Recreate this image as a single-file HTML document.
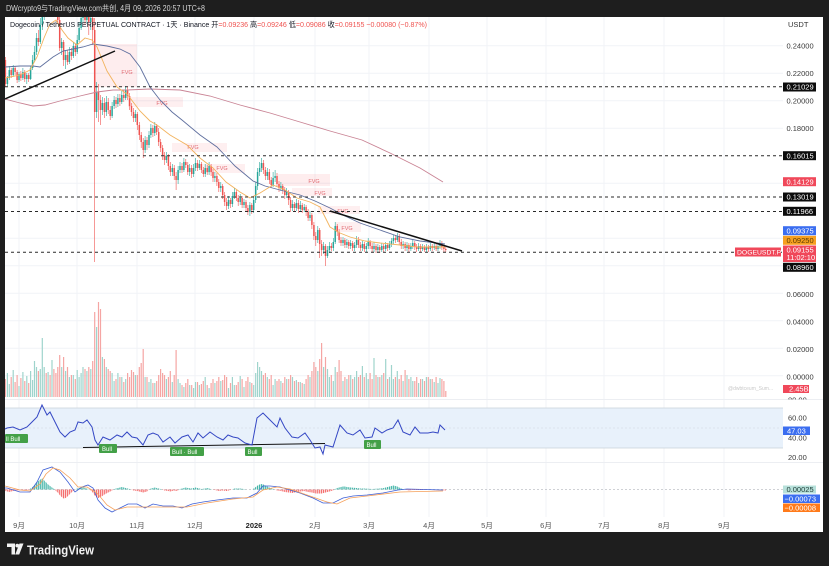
<!DOCTYPE html>
<html><head><meta charset="utf-8"><style>html,body{margin:0;padding:0;background:#1e1e1e;}svg{display:block;}</style></head>
<body>
<svg width="829" height="566" viewBox="0 0 829 566" xmlns="http://www.w3.org/2000/svg" font-family="'Liberation Sans','Noto Sans CJK SC',sans-serif">
<defs>
<clipPath id="mainclip"><rect x="5" y="17" width="778" height="382"/></clipPath>
<clipPath id="rsiclip"><rect x="5" y="400" width="778" height="62"/></clipPath>
<clipPath id="c80"><rect x="783" y="390" width="40" height="9.5"/></clipPath>
<pattern id="pt" patternUnits="userSpaceOnUse" x="4.82" y="0" width="1.94" height="10"><rect x="0" y="0" width="1.2" height="10" fill="#3fb3a6"/></pattern>
<pattern id="pr" patternUnits="userSpaceOnUse" x="4.82" y="0" width="1.94" height="10"><rect x="0" y="0" width="1.2" height="10" fill="#f46b6b"/></pattern>
</defs>
<rect width="829" height="566" fill="#1e1e1e"/>
<rect x="5" y="17" width="818" height="515" fill="#ffffff"/>
<g stroke="#f1f3f7" stroke-width="1">
<line x1="19" y1="17" x2="19" y2="517"/><line x1="77" y1="17" x2="77" y2="517"/><line x1="137" y1="17" x2="137" y2="517"/><line x1="195" y1="17" x2="195" y2="517"/><line x1="254" y1="17" x2="254" y2="517"/><line x1="315" y1="17" x2="315" y2="517"/><line x1="369" y1="17" x2="369" y2="517"/><line x1="429" y1="17" x2="429" y2="517"/><line x1="487" y1="17" x2="487" y2="517"/><line x1="546" y1="17" x2="546" y2="517"/><line x1="604" y1="17" x2="604" y2="517"/><line x1="664" y1="17" x2="664" y2="517"/><line x1="724" y1="17" x2="724" y2="517"/>
<line x1="5" y1="45.7" x2="783" y2="45.7"/><line x1="5" y1="73.3" x2="783" y2="73.3"/><line x1="5" y1="100.7" x2="783" y2="100.7"/><line x1="5" y1="128.3" x2="783" y2="128.3"/><line x1="5" y1="183.2" x2="783" y2="183.2"/><line x1="5" y1="238.2" x2="783" y2="238.2"/><line x1="5" y1="265.7" x2="783" y2="265.7"/><line x1="5" y1="293.2" x2="783" y2="293.2"/><line x1="5" y1="320.7" x2="783" y2="320.7"/><line x1="5" y1="348.2" x2="783" y2="348.2"/><line x1="5" y1="375.7" x2="783" y2="375.7"/>
</g>
<rect x="5" y="408" width="778" height="40" fill="#e8f1fb"/>
<line x1="5" y1="408" x2="783" y2="408" stroke="#c9d0da" stroke-width="0.7"/>
<line x1="5" y1="448" x2="783" y2="448" stroke="#c9d0da" stroke-width="0.7"/>
<line x1="5" y1="428" x2="783" y2="428" stroke="#cfd6e0" stroke-width="0.6" stroke-dasharray="2,2"/>
<line x1="5" y1="399.5" x2="823" y2="399.5" stroke="#eceef2" stroke-width="1"/>
<line x1="5" y1="462.5" x2="823" y2="462.5" stroke="#eceef2" stroke-width="1"/>
<line x1="5" y1="489.5" x2="783" y2="489.5" stroke="#a0a3ab" stroke-width="0.6" stroke-dasharray="2,2"/>
<g clip-path="url(#mainclip)">
 <g font-size="5.5" fill="#e26a72" text-anchor="middle">
  <rect x="95" y="44" width="42" height="43" fill="rgba(242,54,69,0.09)"/><text x="127" y="74">FVG</text>
  <rect x="128" y="97" width="55" height="10" fill="rgba(242,54,69,0.08)"/><text x="162" y="105">FVG</text>
  <rect x="172" y="143" width="55" height="9" fill="rgba(242,54,69,0.08)"/><text x="193" y="149">FVG</text>
  <rect x="203" y="164" width="42" height="9" fill="rgba(242,54,69,0.08)"/><text x="222" y="170">FVG</text>
  <rect x="278" y="174" width="52" height="12" fill="rgba(242,54,69,0.09)"/><text x="314" y="183">FVG</text>
  <rect x="292" y="188" width="40" height="8" fill="rgba(242,54,69,0.08)"/><text x="320" y="195">FVG</text>
  <rect x="318" y="206" width="42" height="8" fill="rgba(242,54,69,0.08)"/><text x="343" y="213">FVG</text>
  <rect x="335" y="222" width="26" height="10" fill="rgba(242,54,69,0.08)"/><text x="347" y="230">FVG</text>
 </g>
 <path fill="none" stroke="#9fd4cc" stroke-width="1.2" d="M7.4 397v-24M9.3 397v-13M13.2 397v-27M19 397v-11M22.9 397v-25M26.8 397v-21M30.6 397v-26M32.6 397v-17M34.5 397v-36M36.5 397v-30M40.3 397v-28M42.3 397v-59M44.2 397v-30M48.1 397v-25M52 397v-37M61.7 397v-30M65.6 397v-26M69.4 397v-20M73.3 397v-22M77.2 397v-27M79.1 397v-20M81.1 397v-24M83 397v-30M86.9 397v-26M90.8 397v-28M96.6 397v-70M102.4 397v-40M106.3 397v-30M112.1 397v-24M114.1 397v-16M117.9 397v-24M121.8 397v-20M125.7 397v-18M135.4 397v-22M145.1 397v-20M149 397v-15M150.9 397v-18M154.8 397v-14M166.4 397v-18M172.3 397v-15M178.1 397v-18M180 397v-14M183.9 397v-10M189.7 397v-12M193.6 397v-9M195.5 397v-15M199.4 397v-12M205.2 397v-20M209.1 397v-9M214.9 397v-14M220.8 397v-16M228.5 397v-9M232.4 397v-20M234.3 397v-12M240.2 397v-21M244 397v-10M249.9 397v-15M253.7 397v-12M255.7 397v-24M257.6 397v-35M259.6 397v-30M261.5 397v-26M267.3 397v-20M273.1 397v-12M275.1 397v-18M280.9 397v-16M286.7 397v-18M292.5 397v-20M296.4 397v-17M300.3 397v-15M304.2 397v-13M310 397v-20M317.8 397v-26M323.6 397v-30M327.5 397v-28M329.4 397v-20M333.3 397v-16M335.2 397v-30M343 397v-16M346.9 397v-18M350.7 397v-22M354.6 397v-20M356.6 397v-26M362.4 397v-31M366.3 397v-24M368.2 397v-18M374 397v-39M377.9 397v-20M381.8 397v-22M385.7 397v-38M389.5 397v-20M391.5 397v-32M393.4 397v-18M397.3 397v-26M403.1 397v-16M407 397v-22M410.9 397v-20M412.8 397v-16M418.6 397v-14M422.5 397v-18M426.4 397v-20M430.3 397v-18M434.2 397v-15M438 397v-14M440 397v-19"/>
 <path fill="none" stroke="#f5a5a3" stroke-width="1.2" d="M5.4 397v-18M11.2 397v-20M15.1 397v-15M17.1 397v-22M20.9 397v-19M24.8 397v-16M28.7 397v-14M38.4 397v-26M46.2 397v-24M50.1 397v-22M53.9 397v-28M55.9 397v-24M57.8 397v-30M59.7 397v-42M63.6 397v-40M67.5 397v-30M71.4 397v-22M75.3 397v-18M85 397v-28M88.8 397v-30M92.7 397v-36M94.7 397v-85M98.5 397v-95M100.5 397v-88M104.4 397v-38M108.2 397v-28M110.2 397v-26M116 397v-18M119.9 397v-20M123.8 397v-15M127.6 397v-24M129.6 397v-20M131.5 397v-27M133.5 397v-25M137.3 397v-22M139.3 397v-30M141.2 397v-34M143.2 397v-48M147 397v-20M152.9 397v-14M156.7 397v-16M158.7 397v-22M160.6 397v-28M162.6 397v-24M164.5 397v-22M168.4 397v-20M170.3 397v-26M174.2 397v-22M176.1 397v-47M182 397v-12M185.8 397v-14M187.8 397v-18M191.7 397v-12M197.5 397v-15M201.4 397v-13M203.3 397v-16M207.2 397v-12M211.1 397v-14M213 397v-18M216.9 397v-16M218.8 397v-20M222.7 397v-17M224.6 397v-22M226.6 397v-20M230.5 397v-14M236.3 397v-12M238.2 397v-15M242.1 397v-18M246 397v-16M247.9 397v-20M251.8 397v-14M263.4 397v-22M265.4 397v-24M269.3 397v-18M271.2 397v-22M277 397v-16M279 397v-18M282.8 397v-14M284.8 397v-20M288.7 397v-18M290.6 397v-22M294.5 397v-16M298.4 397v-15M302.2 397v-14M306.1 397v-18M308.1 397v-22M311.9 397v-26M313.9 397v-35M315.8 397v-30M319.7 397v-38M321.6 397v-54M325.5 397v-40M331.3 397v-22M337.2 397v-25M339.1 397v-37M341 397v-26M344.9 397v-20M348.8 397v-22M352.7 397v-18M358.5 397v-20M360.4 397v-22M364.3 397v-20M370.1 397v-24M372.1 397v-18M376 397v-22M379.8 397v-20M383.7 397v-24M387.6 397v-18M395.4 397v-20M399.2 397v-18M401.2 397v-22M405.1 397v-27M408.9 397v-18M414.8 397v-16M416.7 397v-20M420.6 397v-18M424.5 397v-16M428.3 397v-20M432.2 397v-18M436.1 397v-20M441.9 397v-18M443.9 397v-16M445.8 397v-6"/>
 <path fill="none" stroke="#26a69a" stroke-width="0.6" d="M7.4 76V86M9.3 66V80M13.2 65V77M19 72V82M22.9 68V80M26.8 73V84M30.6 66V80M32.6 55V70M34.5 46V62M36.5 33V55M40.3 18V44M42.3 8V30M44.2 -5V20M48.1 -10V14M52 -15V5M61.7 38V55M65.6 50V69M69.4 47V64M73.3 42V58M77.2 35V54M79.1 22V42M81.1 10V30M83 2V22M86.9 4V24M90.8 12V30M96.6 82V118M102.4 97V115M106.3 96V116M112.1 102V118M114.1 96V109M117.9 94V107M121.8 90V104M125.7 86V100M135.4 110V122M145.1 136V153M149 131V148M150.9 124V138M154.8 122V136M166.4 152V163M172.3 164V176M178.1 166V184M180 162V173M183.9 158V172M189.7 164V176M193.6 164V177M195.5 158V171M199.4 160V170M205.2 164V177M209.1 162V175M214.9 172V182M220.8 182V192M228.5 196V209M232.4 192V207M234.3 188V199M240.2 194V205M244 199V208M249.9 202V216M253.7 196V213M255.7 182V203M257.6 168V190M259.6 162V176M261.5 158V172M267.3 168V180M273.1 172V187M275.1 170V182M280.9 182V191M286.7 188V198M292.5 200V211M296.4 199V211M300.3 201V212M304.2 204V212M310 211V221M317.8 226V243M323.6 242V254M327.5 246V258M329.4 242V253M333.3 238V251M335.2 222V244M343 237V246M346.9 239V248M350.7 240V249M354.6 242V251M356.6 236V248M362.4 241V251M366.3 243V252M368.2 238V249M374 242V252M377.9 244V253M381.8 243V252M385.7 242V251M389.5 241V250M391.5 238V247M393.4 235V244M397.3 233V242M403.1 241V249M407 242V251M410.9 243V251M412.8 240V249M418.6 243V251M422.5 244V251M426.4 244V252M430.3 243V251M434.2 243V250M438 243V251M440 240V249"/>
 <path fill="none" stroke="#26a69a" stroke-width="1.5" d="M7.4 84V78M9.3 78V70M13.2 75V68M19 80V74M22.9 78V72M26.8 79V75M30.6 79V68M32.6 68V60M34.5 60V52M36.5 52V38M40.3 42V25M42.3 25V15M44.2 15V5M48.1 10V-5M52 0V-8M61.7 48V42M65.6 60V55M69.4 62V52M73.3 56V46M77.2 52V40M79.1 40V28M81.1 28V18M83 18V10M86.9 20V12M90.8 22V18M96.6 112V92M102.4 110V103M106.3 112V102M112.1 116V106M114.1 106V100M117.9 104V98M121.8 102V95M125.7 98V90M135.4 118V114M145.1 150V140M149 145V135M150.9 135V128M154.8 133V126M166.4 160V156M172.3 172V168M178.1 180V170M180 170V166M183.9 170V162M189.7 172V168M193.6 174V168M195.5 168V163M199.4 168V164M205.2 174V168M209.1 172V166M214.9 178V176M220.8 188V186M228.5 206V200M232.4 204V196M234.3 196V192M240.2 202V198M244 205V202M249.9 212V205M253.7 210V200M255.7 200V186M257.6 186V172M259.6 172V168M261.5 168V163M267.3 176V172M273.1 185V178M275.1 178V176M280.9 188V186M286.7 195V192M292.5 208V204M296.4 208V203M300.3 209V205M304.2 210V207M310 218V215M317.8 240V230M323.6 250V246M327.5 256V250M329.4 250V246M333.3 248V242M335.2 242V226M343 243V240M346.9 245V242M350.7 246V243M354.6 248V245M356.6 245V240M362.4 248V244M366.3 249V246M368.2 246V242M374 249V246M377.9 250V247M381.8 250V246M385.7 249V245M389.5 248V244M391.5 244V241M393.4 241V238M397.3 240V236M403.1 246V244M407 248V245M410.9 249V246M412.8 246V243M418.6 249V246M422.5 249V247M426.4 250V247M430.3 249V246M434.2 248V246M438 249V246M440 246V243"/>
 <path fill="none" stroke="#ef5350" stroke-width="0.6" d="M5.4 57V87M11.2 68V78M15.1 66V75M17.1 70V83M20.9 71V81M24.8 70V82M28.7 73V82M38.4 30V46M46.2 -5V15M50.1 -12V5M53.9 -12V8M55.9 -3V14M57.8 5V24M59.7 15V51M63.6 40V66M67.5 50V65M71.4 48V60M75.3 44V56M85 5V25M88.8 8V35M92.7 14V45M94.7 18V262M98.5 84V122M100.5 95V125M104.4 98V118M108.2 98V114M110.2 106V120M116 97V108M119.9 94V106M123.8 90V102M127.6 87V100M129.6 93V110M131.5 103V116M133.5 108V122M137.3 112V130M139.3 122V140M141.2 132V148M143.2 138V158M147 137V150M152.9 125V137M156.7 124V135M158.7 128V146M160.6 139V152M162.6 145V160M164.5 152V165M168.4 154V170M170.3 162V176M174.2 165V180M176.1 172V190M182 163V173M185.8 159V168M187.8 162V175M191.7 165V178M197.5 160V171M201.4 162V173M203.3 167V177M207.2 165V175M211.1 164V176M213 169V182M216.9 173V186M218.8 179V192M222.7 184V199M224.6 192V206M226.6 198V210M230.5 198V208M236.3 190V201M238.2 195V206M242.1 196V208M246 200V211M247.9 205V215M251.8 203V214M263.4 160V174M265.4 167V180M269.3 169V184M271.2 177V188M277 173V187M279 181V192M282.8 184V194M284.8 187V199M288.7 190V205M290.6 197V212M294.5 202V211M298.4 200V213M302.2 203V213M306.1 205V216M308.1 209V221M311.9 213V229M313.9 222V240M315.8 232V246M319.7 228V258M321.6 240V256M325.5 244V266M331.3 243V251M337.2 224V236M339.1 229V243M341 237V246M344.9 238V248M348.8 240V249M352.7 241V251M358.5 237V248M360.4 242V251M364.3 242V252M370.1 240V249M372.1 243V252M376 244V253M379.8 245V253M383.7 244V252M387.6 243V251M395.4 235V243M399.2 234V245M401.2 239V249M405.1 242V251M408.9 243V252M414.8 241V250M416.7 244V252M420.6 244V252M424.5 245V252M428.3 245V252M432.2 244V251M436.1 244V251M441.9 241V250M443.9 245V252M445.8 247V252"/>
 <path fill="none" stroke="#ef5350" stroke-width="1.5" d="M5.4 60V84M11.2 70V75M15.1 68V72M17.1 72V80M20.9 74V78M24.8 72V79M28.7 75V79M38.4 38V42M46.2 5V10M50.1 -5V0M53.9 -8V2M55.9 2V10M57.8 10V20M59.7 20V48M63.6 42V60M67.5 55V62M71.4 52V56M75.3 46V52M85 10V20M88.8 12V22M92.7 18V30M94.7 30V112M98.5 92V100M100.5 100V110M104.4 103V112M108.2 102V110M110.2 110V116M116 100V104M119.9 98V102M123.8 95V98M127.6 90V96M129.6 96V106M131.5 106V112M133.5 112V118M137.3 114V125M139.3 125V135M141.2 135V142M143.2 142V150M147 140V145M152.9 128V133M156.7 126V132M158.7 132V142M160.6 142V148M162.6 148V155M164.5 155V160M168.4 156V166M170.3 166V172M174.2 168V176M176.1 176V180M182 166V170M185.8 162V165M187.8 165V172M191.7 168V174M197.5 163V168M201.4 164V170M203.3 170V174M207.2 168V172M211.1 166V172M213 172V178M216.9 176V182M218.8 182V188M222.7 186V195M224.6 195V202M226.6 202V206M230.5 200V204M236.3 192V198M238.2 198V202M242.1 198V205M246 202V208M247.9 208V212M251.8 205V210M263.4 163V170M265.4 170V176M269.3 172V180M271.2 180V185M277 176V184M279 184V188M282.8 186V190M284.8 190V195M288.7 192V200M290.6 200V208M294.5 204V208M298.4 203V209M302.2 205V210M306.1 207V212M308.1 212V218M311.9 215V225M313.9 225V236M315.8 236V240M319.7 230V244M321.6 244V250M325.5 246V256M331.3 246V248M337.2 226V232M339.1 232V240M341 240V243M344.9 240V245M348.8 242V246M352.7 243V248M358.5 240V245M360.4 245V248M364.3 244V249M370.1 242V246M372.1 246V249M376 246V250M379.8 247V250M383.7 246V249M387.6 245V248M395.4 238V240M399.2 236V242M401.2 242V246M405.1 244V248M408.9 245V249M414.8 243V247M416.7 247V249M420.6 246V249M424.5 247V250M428.3 247V249M432.2 246V248M436.1 246V249M441.9 243V247M443.9 247V249M445.8 249V250"/>
 <polyline fill="none" stroke="#c98394" stroke-width="0.9" points="5,99 20,103 33,106 45,105 60,101 80,96 97,92 113,90 127,90 150,89 180,90 210,96 240,105 270,113 300,122 330,131 362,140 390,153 420,168 443,182"/>
 <polyline fill="none" stroke="#5f6f9e" stroke-width="0.9" points="5,67 20,66 33,66 40,67 53,57 63,51 73,49 83,47 93,44 107,46 120,49 130,54 140,67 150,87 160,100 172,112 182,120 200,135 217,147 235,166 253,181 265,186 280,190 300,195 315,201 330,208 345,216 360,223 380,230 400,237 420,241 445,244"/>
 <polyline fill="none" stroke="#f2b35e" stroke-width="0.9" points="5,78 20,75 30,70 37,57 44,38 50,24 56,20 62,30 68,38 77,45 85,38 92,40 97,47 107,71 117,87 127,94 140,111 150,121 157,125 170,135 187,145 200,158 213,168 226,182 240,192 250,198 260,193 273,185 285,190 297,198 310,202 320,207 330,227 340,233 350,237 365,241 380,243 400,245 417,247 445,247"/>
 <g stroke="#2a2a2a" stroke-width="1" stroke-dasharray="3,3">
  <line x1="5" y1="86.7" x2="783" y2="86.7"/>
  <line x1="5" y1="155.7" x2="783" y2="155.7"/>
  <line x1="5" y1="197" x2="783" y2="197"/>
  <line x1="5" y1="211.5" x2="783" y2="211.5"/>
  <line x1="5" y1="252.3" x2="783" y2="252.3"/>
 </g>
 <line x1="5" y1="99" x2="115" y2="51" stroke="#111" stroke-width="1.5"/>
 <line x1="330" y1="211" x2="462" y2="251" stroke="#111" stroke-width="1.5"/>
</g>
<g clip-path="url(#rsiclip)">
 <line x1="83" y1="447.5" x2="325" y2="443.5" stroke="#111" stroke-width="1"/>
 <polyline fill="none" stroke="#3447c4" stroke-width="1" points="5,429 7,428 13,427 20,430 27,427 32,422 37,417 42,405 47,415 50,412 55,422 60,432 65,437 70,432 75,430 78,422 83,423 87,420 92,427 95,440 98,445 103,437 110,440 117,435 122,437 127,432 132,437 137,438 143,445 148,435 153,433 158,435 163,442 170,437 175,443 182,437 188,435 193,442 198,433 203,438 210,432 217,437 223,440 228,435 233,437 238,438 245,443 252,445 257,418 263,413 268,418 277,427 280,418 285,428 292,437 298,438 305,433 310,440 315,448 320,447 323,454 325,445 333,447 340,425 347,433 353,435 360,430 365,438 372,437 375,428 382,433 387,430 393,428 398,420 403,432 410,435 415,427 420,433 428,433 433,432 438,433 440,425 445,430"/>
</g>
<polygon fill="url(#pt)" points="5,489.5 29,489.5 30.6,488.5 32.6,487 34.5,485 36.5,483 38.4,481 40.3,479.5 42.3,478.5 44.2,480.5 46.2,482.5 48.1,484.5 50.1,486 52,487.5 53.9,488.7 55,489.5 75,489.5 77.2,488.5 79.1,488 81.1,487.5 83,487 85,488 86.9,488.5 89,489.5 113,489.5 116,488.5 118,488 120,487.5 121.8,487 123.8,487.5 125.7,488 127.6,488.5 129.6,489 131,489.5 149,489.5 150.9,488.5 152.9,488 154.8,487.5 156.7,488 158.7,488.5 160.6,489 162,489.5 178.5,489.5 180,489 182,488.5 183.9,488 185.8,487.5 187.8,488 191.7,488.5 195.5,487.5 197.5,488 201.4,489 205.2,488.5 207.2,488 211,489 212,489.5 232,489.5 234.3,488.5 240.2,488.5 244,489 246,489.5 252,489.5 253.7,488.5 255.7,487 257.6,485.5 259.6,484.5 261.5,484 263.4,484.5 265.4,485.5 267.3,486.5 269.3,487.5 271.2,488.5 273.1,489 275,489.5 333,489.5 335.2,489 337.2,488 339.1,487.5 341,487 343,486.5 344.9,486.5 346.9,487 350.7,487.5 356.6,488 360.4,488.5 364.3,488.5 372.1,489 379.8,488.5 383.7,488 387.6,487 389.5,486.5 391.5,486 393.4,485.5 395.4,486 397.3,486.5 399.2,487.5 401.2,488.5 403.1,489 405,489.5 446,489.5"/>
<polygon fill="url(#pr)" points="5,489.5 5.4,491 7.4,491.5 9.3,492 11.2,491.5 13.2,491 15.1,490.5 20,490.3 29,490 30,489.5 55,489.5 55.9,491 57.8,492.5 59.7,495 61.7,497 63.6,498.5 65.6,498 67.5,496.5 69.4,494.5 71.4,492.5 73.3,491 75,489.5 90,489.5 90.8,490.5 92.7,492.5 94.7,495.5 96.6,497.5 98.5,498 100.5,497 102.4,496 104.4,494.5 106.3,493.5 108.2,492.5 110.2,491.5 112.1,490.5 113,489.5 131,489.5 133.5,490.5 137.3,491 141.2,492 143.2,492.5 145.1,492 147,491.5 149,489.5 162,489.5 164.5,490.5 168.4,491 170.3,491.5 174.2,490.5 176.1,491 178.1,490.5 178.5,489.5 212,489.5 214.9,490 218.8,491 222.7,490.5 226.6,491 230.5,490 232,489.5 275,489.5 277,490.5 280.9,491 284.8,492 288.7,492.5 292.5,493 296.4,492 300.3,491.5 304.2,491 308.1,492 311.9,492.5 315.8,493.5 319.7,493.5 321.6,493.5 325.5,492.5 329.4,491.5 333,490.5 334,489.5 405,489.5 407,490 409,490.5 412,490 420,490 430,490 440,490.2 446,490.5 446,489.5"/>
<polyline fill="none" stroke="#3d5fd6" stroke-width="0.8" points="5,488 7,488 20,492 30,492 37,482 43,470 52,467 60,472 68,482 75,492 82,487 88,485 93,488 98,500 105,508 112,512 120,508 128,504 137,504 145,508 153,504 163,506 173,506 182,508 192,504 203,502 217,500 233,498 247,498 257,493 263,486 270,486 280,487 290,490 300,493 313,498 323,503 333,503 343,498 353,496 367,495 383,493 398,490 407,489 443,490"/>
<polyline fill="none" stroke="#f5a05a" stroke-width="0.8" points="5,486 20,490 30,491 40,484 46,474 53,468 60,470 70,478 78,487 87,487 97,493 107,505 115,510 127,507 143,507 167,507 187,507 207,503 233,499 253,497 263,490 277,487 290,489 307,495 327,502 337,504 350,498 367,496 400,492 443,491"/>
<g font-size="6" fill="#fff">
 <rect x="5" y="434" width="23" height="9" rx="1" fill="#43a047"/><text x="6" y="440.8">ll Bull</text>
 <rect x="99" y="444" width="18" height="9" rx="1" fill="#43a047"/><text x="102" y="450.8">Bull</text>
 <rect x="170" y="447" width="34" height="9" rx="1" fill="#43a047"/><text x="172" y="453.8">Bull · Bull</text>
 <rect x="245" y="447" width="17" height="9" rx="1" fill="#43a047"/><text x="247.5" y="453.8">Bull</text>
 <rect x="364" y="440" width="17" height="9" rx="1" fill="#43a047"/><text x="366.5" y="446.8">Bull</text>
</g>
<text x="6" y="11" fill="#d6d6d6" font-size="8" textLength="199" lengthAdjust="spacingAndGlyphs">DWcrypto9与TradingView.com共创, 4月 09, 2026 20:57 UTC+8</text>
<text x="10" y="27" font-size="7.6" fill="#131722" textLength="417" lengthAdjust="spacingAndGlyphs">Dogecoin / TetherUS PERPETUAL CONTRACT · 1天 · Binance  开<tspan fill="#ef5350">=0.09236</tspan>  高<tspan fill="#ef5350">=0.09246</tspan>  低<tspan fill="#ef5350">=0.09086</tspan>  收<tspan fill="#ef5350">=0.09155  −0.00080 (−0.87%)</tspan></text>
<text x="788" y="27" font-size="7.5" fill="#333">USDT</text>
<g font-size="7.5" fill="#3a3a3a">
 <text x="786.5" y="48.3">0.24000</text>
 <text x="786.5" y="76">0.22000</text>
 <text x="786.5" y="103.3">0.20000</text>
 <text x="786.5" y="131">0.18000</text>
 <text x="786.5" y="297">0.06000</text>
 <text x="786.5" y="324.7">0.04000</text>
 <text x="786.5" y="352">0.02000</text>
 <text x="786.5" y="379.7">0.00000</text>
 <text x="788" y="402.7" clip-path="url(#c80)">80.00</text>
 <text x="788" y="420.4">60.00</text>
 <text x="788" y="440.4">40.00</text>
 <text x="788" y="460">20.00</text>
</g>
<text x="728" y="390" font-size="5" fill="#c9c9c9">@dwbtceum_Sum...</text>
<g font-size="7.5" fill="#fff">
 <rect x="783" y="82.5" width="33" height="9" fill="#0c0c0c"/><text x="786.5" y="89.7">0.21029</text>
 <rect x="783" y="151.2" width="33" height="9" fill="#0c0c0c"/><text x="786.5" y="158.4">0.16015</text>
 <rect x="783" y="177.2" width="33" height="9" fill="#f0485a"/><text x="786.5" y="184.4">0.14129</text>
 <rect x="783" y="192.5" width="33" height="9" fill="#0c0c0c"/><text x="786.5" y="199.7">0.13019</text>
 <rect x="783" y="206.8" width="33" height="9" fill="#0c0c0c"/><text x="786.5" y="214">0.11966</text>
 <rect x="783" y="226.2" width="33" height="9" fill="#3b6ef0"/><text x="786.5" y="233.4">0.09375</text>
 <rect x="783" y="235.8" width="33" height="9" fill="#f7a021"/><text x="786.5" y="243" fill="#5a3a00">0.09250</text>
 <rect x="783" y="245.5" width="33" height="16.5" fill="#f0485a"/><text x="786.5" y="252.5">0.09155</text><text x="786.5" y="260.2">11:02:10</text>
 <rect x="783" y="262.8" width="33" height="9" fill="#0c0c0c"/><text x="786.5" y="270">0.08960</text>
 <rect x="735" y="247.5" width="46" height="9" fill="#f0485a"/><text x="737" y="254.5" font-size="6.8">DOGEUSDT.P</text>
 <rect x="783" y="385" width="26" height="8" fill="#f0485a"/><text x="789" y="391.7">2.45B</text>
 <rect x="783" y="426.5" width="27" height="8.5" fill="#3b6ef0"/><text x="787" y="433.5">47.03</text>
 <rect x="783" y="485.5" width="33" height="8" fill="#b7e0da"/><text x="786.5" y="492.2" fill="#1d3b36">0.00025</text>
 <rect x="783" y="494.5" width="37" height="8.5" fill="#3b6ef0"/><text x="784.5" y="501.5">−0.00073</text>
 <rect x="783" y="503.5" width="37" height="8.5" fill="#ff7a1a"/><text x="784.5" y="510.5">−0.00008</text>
</g>
<g font-size="7.5" fill="#555" text-anchor="middle">
 <text x="19" y="528">9月</text>
 <text x="77" y="528">10月</text>
 <text x="137" y="528">11月</text>
 <text x="195" y="528">12月</text>
 <text x="254" y="528" font-weight="bold" fill="#222">2026</text>
 <text x="315" y="528">2月</text>
 <text x="369" y="528">3月</text>
 <text x="429" y="528">4月</text>
 <text x="487" y="528">5月</text>
 <text x="546" y="528">6月</text>
 <text x="604" y="528">7月</text>
 <text x="664" y="528">8月</text>
 <text x="724" y="528">9月</text>
</g>
<g fill="#f2f2f2">
 <path d="M7 543.5 h8 v11 h-3.5 v-7.5 h-4.5 z"/>
 <circle cx="17.3" cy="545.6" r="1.9"/>
 <path d="M19.5 543.5 h4 l-4.3 11 h-4 z"/>
</g>
<text x="27" y="554.5" font-size="13.2" font-weight="bold" fill="#f2f2f2" textLength="67" lengthAdjust="spacingAndGlyphs">TradingView</text>
</svg>
</body></html>
